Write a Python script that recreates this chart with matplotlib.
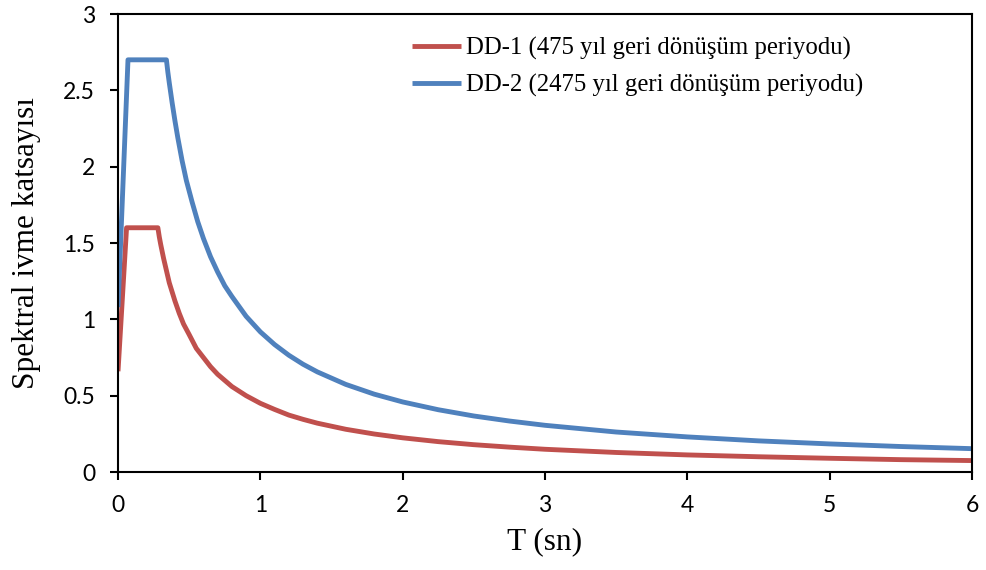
import matplotlib
matplotlib.use('Agg')
import matplotlib.pyplot as plt

# Values
t_dd1 = [0, 0.06, 0.28, 0.29, 0.30, 0.32, 0.34, 0.36, 0.38, 0.40, 0.43, 0.46, 0.50, 0.55,
         0.60, 0.65, 0.70, 0.75, 0.80, 0.90, 1.0, 1.1, 1.2, 1.3, 1.4, 1.6, 1.8, 2.0,
         2.25, 2.5, 2.75, 3.0, 3.5, 4.0, 4.5, 5.0, 5.5, 6.0]
sa_dd1 = [0.66, 1.60, 1.60, 1.54, 1.49, 1.40, 1.32, 1.24, 1.18, 1.12, 1.04, 0.97, 0.90, 0.81,
          0.75, 0.69, 0.64, 0.60, 0.56, 0.50, 0.45, 0.41, 0.373, 0.345, 0.32, 0.28, 0.249, 0.224,
          0.199, 0.179, 0.163, 0.149, 0.128, 0.112, 0.100, 0.090, 0.081, 0.075]

t_dd2 = [0, 0.07, 0.34, 0.35, 0.36, 0.38, 0.40, 0.42, 0.45, 0.48, 0.52, 0.56, 0.60, 0.65,
         0.70, 0.75, 0.80, 0.90, 1.0, 1.1, 1.2, 1.3, 1.4, 1.6, 1.8, 2.0,
         2.25, 2.5, 2.75, 3.0, 3.5, 4.0, 4.5, 5.0, 5.5, 6.0]
sa_dd2 = [1.08, 2.70, 2.70, 2.62, 2.55, 2.42, 2.30, 2.19, 2.04, 1.91, 1.77, 1.64, 1.53, 1.41,
          1.31, 1.22, 1.15, 1.02, 0.918, 0.835, 0.765, 0.706, 0.656, 0.574, 0.510, 0.459,
          0.408, 0.367, 0.334, 0.306, 0.262, 0.230, 0.204, 0.184, 0.167, 0.153]

labels = ['DD-1 (475 yıl geri dönüşüm periyodu)', 'DD-2 (2475 yıl geri dönüşüm periyodu)']
x_ticks = [0, 1, 2, 3, 4, 5, 6]
y_ticks = [0, 0.5, 1, 1.5, 2, 2.5, 3]
y_tick_labels = ['0', '0.5', '1', '1.5', '2', '2.5', '3']

fig = plt.figure(figsize=(9.86, 5.7), dpi=100)
ax = fig.add_axes([0.1197, 0.1719, 0.8661, 0.8035])

ax.plot(t_dd1, sa_dd1, color='#C0504D', lw=3.5, solid_joinstyle='round',
        solid_capstyle='butt', label=labels[0])
ax.plot(t_dd2, sa_dd2, color='#4F81BD', lw=3.5, solid_joinstyle='round',
        solid_capstyle='butt', label=labels[1])

ax.set_xlim(0, 6)
ax.set_ylim(0, 3)
ax.set_xticks(x_ticks)
ax.set_yticks(y_ticks)
ax.set_yticklabels(y_tick_labels)
for s in ax.spines.values():
    s.set_linewidth(1.5)
ax.tick_params(direction='out', length=5.5, width=1.5, labelsize=16.5)
ax.tick_params(axis='x', pad=11)
ax.tick_params(axis='y', pad=11)
for lbl in ax.get_xticklabels() + ax.get_yticklabels():
    lbl.set_family('Lato')

ax.set_xlabel('T (sn)', family='Liberation Serif', fontsize=22.5, labelpad=8)
ax.set_ylabel('Spektral ivme katsayısı', family='Liberation Serif', fontsize=22.5, labelpad=16)

ax.legend(loc='upper left', bbox_to_anchor=(0.344, 0.95), frameon=False,
          prop={'family': 'Liberation Serif', 'size': 17.8},
          handlelength=2.0, handletextpad=0.2, labelspacing=0.55,
          borderpad=0, borderaxespad=0)

plt.savefig('out.png', dpi=100)
